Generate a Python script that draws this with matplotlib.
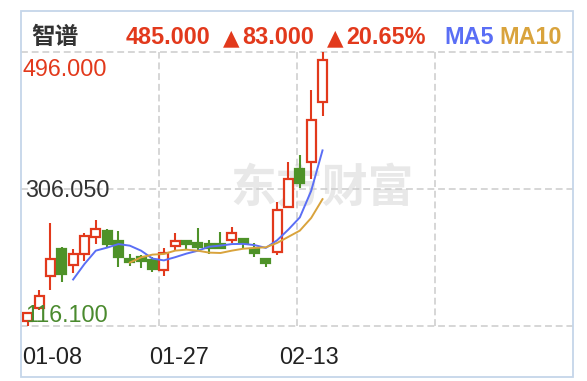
import numpy as np
import pandas as pd
import matplotlib as mpl

mpl.use('Agg')
import matplotlib.pyplot as plt
from matplotlib.transforms import offset_copy

plt.rcParams['font.family'] = ['Liberation Sans', 'DejaVu Sans']

# daily candles, 01-08 .. 02-13
opens = [124, 141, 186, 223, 201, 216, 240.5, 248, 234.5, 209.5, 211.5, 208, 194, 227.5,
         234.5, 232, 230, 230, 236, 236.5, 223, 209, 219, 282, 334, 344, 427]
closes = [134, 158, 209, 188, 216, 241.5, 250.5, 230, 212.5, 205, 206.5, 196, 217.5, 234.5,
          230, 226.5, 224, 225, 245, 231.5, 218, 204.5, 278, 320, 315, 402, 485]
highs = [136.5, 166.5, 259, 226.5, 223, 246, 263.5, 250.5, 248, 217, 215, 212, 224, 245,
         235, 253, 236, 247, 253.5, 238, 232, 209.5, 288, 344, 354, 444, 496]
lows = [116.1, 139, 166.5, 178, 190.5, 207, 230, 224, 199, 200, 196.5, 191, 186, 220.5,
        222, 222, 217, 224, 231, 224, 212.5, 199, 215, 280, 308, 320, 408]

date_labels = ['01-08', '01-27', '02-13']
date_pos = [-0.5, 13.3, 24.8]
price_ticks = [496.0, 306.05, 116.1]

RED = '#e2391c'
GREEN = '#4e9228'
BLUE = '#5a6ef5'
GOLD = '#d9a33c'
GRID = '#cccccc'

W, H = 587, 381
fig = plt.figure(figsize=(W / 100, H / 100), dpi=100)
ax = fig.add_axes([21 / W, (H - 326.3) / H, 552 / W, 274 / H])

df = pd.DataFrame({'open': opens, 'close': closes, 'high': highs, 'low': lows})
x = np.arange(len(df))
up = df['close'] >= df['open']
ma5 = df['close'].rolling(5).mean()
ma10 = df['close'].rolling(10).mean()

ax.set_xlim(-0.6, 48.1)
ax.set_ylim(min(lows), max(highs))
ax.axis('off')

# dashed grid
for yv in price_ticks:
    ax.plot([0, 1], [yv, yv], transform=ax.get_yaxis_transform(), color=GRID,
            lw=1.1, ls=(0, (4.5, 2.5)), clip_on=False, zorder=1)
for f in (0.25, 0.5, 0.75):
    ax.plot([f, f], [0, 1], transform=ax.transAxes, color=GRID,
            lw=1.1, ls=(0, (4.5, 2.5)), clip_on=False, zorder=1)

# watermark
ax.text(0.545, 0.5, '东方财富', transform=ax.transAxes, ha='center', va='center',
        fontsize=33, color='#e8e8e8', family=['Noto Sans CJK SC'], weight='bold', zorder=0)

colors = np.where(up, RED, GREEN)
ax.vlines(x, df['low'], df['high'], colors=colors, lw=1.5, zorder=2, clip_on=False)
body = (df['close'] - df['open']).abs().clip(lower=0.5)
bottom = df[['open', 'close']].min(axis=1)
faces = np.where(up, 'white', GREEN)
ax.bar(x, body, bottom=bottom, width=0.78, color=faces, edgecolor=colors,
       linewidth=1.6, zorder=3)

ax.plot(x, ma5, color=BLUE, lw=1.4, zorder=4)
ax.plot(x, ma10, color=GOLD, lw=1.4, zorder=4)

# price labels
ytr = ax.get_yaxis_transform()
lab_colors = [RED, '#333333', '#4a8a2e']
lab_x = [0.002, 0.007, 0.007]
lab_dy = [-17.0, -5.8, 3.0]
for yv, c, lx, dy in zip(price_ticks, lab_colors, lab_x, lab_dy):
    ax.text(lx, yv, f'{yv:.3f}', transform=offset_copy(ytr, fig=fig, y=dy, units='points'),
            ha='left', va='baseline', fontsize=16.8, color=c, zorder=5)

# date labels
xtr = ax.get_xaxis_transform()
for lbl, p in zip(date_labels, date_pos):
    ax.text(p, -0.1394, lbl, transform=xtr, ha='left' if p < 0 else 'center',
            va='baseline', fontsize=16.8, color='#222222')

# header
base = (H - 44.4) / H
fig.text(30.8 / W, base, '智谱', family=['Noto Sans CJK SC', 'DejaVu Sans'],
         weight='bold', fontsize=17, color='#333333', va='baseline')
fig.text(126 / W, base, '485.000', weight='bold', fontsize=16.8, color=RED, va='baseline')
for tx, num in ((222.6, '83.000'), (327, '20.65%')):
    fig.text(tx / W, base, '▲', family=['DejaVu Sans'], weight='bold', fontsize=15.5,
             color=RED, va='baseline')
    fig.text((tx + 19.5) / W, base, num, weight='bold', fontsize=16.8, color=RED, va='baseline')
fig.text(444 / W, base, 'MA5', weight='bold', fontsize=16.8, color=BLUE, va='baseline')
fig.text(499 / W, base, 'MA10', weight='bold', fontsize=16.8, color=GOLD, va='baseline')

# outer frame
fig.add_artist(plt.Rectangle((20.5 / W, (H - 377) / H), 552.5 / W, 365.7 / H,
                             transform=fig.transFigure, fill=False,
                             edgecolor='#c5d6e9', lw=1.3))

fig.savefig('out.png', dpi=100)
